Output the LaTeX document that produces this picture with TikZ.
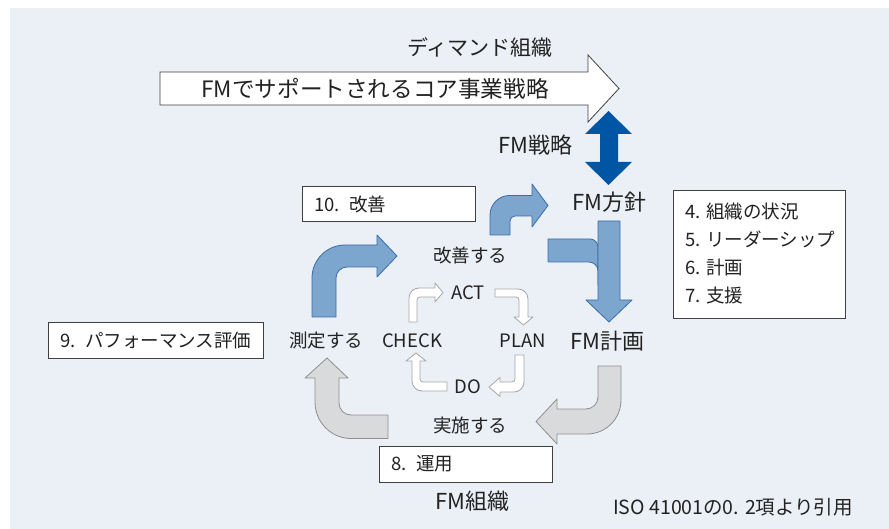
\documentclass[tikz,border=0pt]{standalone}
\usepackage{fontspec}
\setmainfont{Noto Sans CJK JP}
\usetikzlibrary{calc}
\definecolor{bg}{HTML}{EBF0F7}
\definecolor{bluefill}{HTML}{7DA6CF}
\definecolor{blueline}{HTML}{3A6DAA}
\definecolor{darkblue}{HTML}{0055A5}
\definecolor{grayfill}{HTML}{D9DADB}
\definecolor{grayline}{HTML}{8E8E8E}
\definecolor{pdcaline}{HTML}{A6A6A6}
\definecolor{txt}{HTML}{222222}
\definecolor{boxline}{HTML}{404040}
\newcommand\Q[3]{.. controls ($(#1)!0.552!(#2)$) and ($(#3)!0.552!(#2)$) .. (#3)}
\begin{document}
\begin{tikzpicture}[x=1pt,y=-1pt,
  bluearrow/.style={fill=bluefill,draw=blueline,line width=0.8pt,line join=round},
  grayarrow/.style={fill=grayfill,draw=grayline,line width=0.8pt,line join=round},
  pdca/.style={fill=white,draw=pdcaline,line width=0.8pt,line join=round},
  infobox/.style={draw=boxline,fill=white,line width=0.8pt,anchor=north west,align=left,text=txt,
    font=\fontsize{18.5}{27.8}\selectfont,inner xsep=12pt},
  boxtext/.style={anchor=west,align=left,text=txt,font=\fontsize{18.5}{27.8}\selectfont,inner sep=0},
  big/.style={font=\fontsize{22}{26}\selectfont,text=txt,inner sep=0},
  mid/.style={font=\fontsize{18.5}{22}\selectfont,text=txt,inner sep=0},
  small/.style={font=\fontsize{18.5}{20}\selectfont,text=txt,inner sep=0}]
\useasboundingbox (0,0) rectangle (889,529);
\fill[white] (0,0) rectangle (889,529);
\fill[bg] (10,8) rectangle (889,529);

% top strategy arrow
\draw[fill=white,draw=boxline,line width=0.8pt,line join=miter]
  (160,72) -- (588,72) -- (588,55) -- (619,88.5) -- (588,122) -- (588,105) -- (160,105) -- cycle;
\node[big,font=\fontsize{22.6}{26}\selectfont] (core) at (375,89) {FMでサポートされるコア事業戦略};
\node[big,font=\fontsize{21}{24}\selectfont] (demand) at (480,47) {ディマンド組織};

% double arrow
\fill[darkblue] (608.5,111) -- (632,134) -- (618,134) -- (618,162) -- (632,162) -- (608.5,185)
  -- (585,162) -- (600,162) -- (600,134) -- (585,134) -- cycle;
\node[big] (fmstrat) at (535,145) {FM戦略};

% labels
\node[big] (policy) at (609,202) {FM方針};
\node[big] (plan) at (607,341) {FM計画};
\node[big] (org) at (472,501) {FM組織};
\node[mid] (improve) at (470,255) {改善する};
\node[mid] (measure) at (326,341) {測定する};
\node[mid] (do) at (470,425) {実施する};

% boxes
\node[infobox,minimum width=173pt,minimum height=35pt,text width=149pt] (b10) at (302,186.5) {10. 改善};
\node[infobox,minimum width=215pt,minimum height=36pt,text width=191pt] (b9) at (48,322) {9. パフォーマンス評価};
\node[draw=boxline,fill=white,line width=0.8pt,anchor=north west,minimum width=172pt,minimum height=127.5pt,inner sep=0] (b47) at (673,190.5) {};
\node[boxtext] (t4) at (685,211.5) {4. 組織の状況};
\node[boxtext] (t5) at (685,239) {5. リーダーシップ};
\node[boxtext] (t6) at (685,267.5) {6. 計画};
\node[boxtext] (t7) at (685,295) {7. 支援};
\node[infobox,minimum width=173pt,minimum height=35.5pt,text width=149pt] (b8) at (379,446) {8. 運用};

\node[small,font=\fontsize{19.5}{20}\selectfont,anchor=west] (iso) at (613,507) {ISO 41001の0. 2項より引用};

% blue arrow A (measure -> improve)
\draw[bluearrow] (312,317) -- (312,278) \Q{312,278}{312,245}{345,245} -- (377,245) -- (377,235)
  -- (397,256) -- (377,277) -- (377,267) -- (347,267) \Q{347,267}{336,267}{336,278} -- (336,317) -- cycle;
% blue arrow B (improve -> policy)
\draw[bluearrow] (490,235) -- (490,215) \Q{490,215}{490,195.5}{509.5,195.5} -- (532,195.5) -- (532,184)
  -- (548,205.5) -- (532,227) -- (532,216) -- (515,216) \Q{515,216}{510,216}{510,221} -- (510,235) -- cycle;
% blue bent piece under policy->plan arrow
\draw[bluearrow] (548,239) -- (590,239) \Q{590,239}{598,239}{598,247} -- (598,285) -- (598,271)
  \Q{598,271}{598,262}{589,262} -- (548,262) -- cycle;
% blue straight arrow (policy -> plan)
\draw[bluearrow] (598,221) -- (620,221) -- (620,300) -- (632,300) -- (609,322) -- (586,300) -- (598,300) -- cycle;

% gray arrow D (plan -> do)
\draw[grayarrow] (598,366) -- (621,366) -- (621,400) \Q{621,400}{621,434}{587,434} -- (557,434) -- (557,444)
  -- (536,421.5) -- (557,399) -- (557,409) -- (586,409) \Q{586,409}{598,409}{598,397} -- cycle;
% gray arrow E (do -> measure)
\draw[grayarrow] (388,415) -- (351,415) \Q{351,415}{339,415}{339,403} -- (339,378) -- (348,378)
  -- (327,358) -- (305,378) -- (315,378) -- (315,402) \Q{315,402}{315,438.5}{351,438.5} -- (388,438.5) -- cycle;

% PDCA small arrows
\draw[pdca] (409,322) -- (409,298) \Q{409,298}{409,288}{419,288} -- (435,288) -- (435,283) -- (443,292.5)
  -- (435,302) -- (435,297) -- (420,297) \Q{420,297}{417,297}{417,300} -- (417,322) -- cycle;
\draw[pdca] (495,289) -- (518,289) \Q{518,289}{528,289}{528,299} -- (528,317) -- (533,317) -- (523.5,325)
  -- (514,317) -- (519,317) -- (519,300) \Q{519,300}{519,297}{516,297} -- (495,297) -- cycle;
\draw[pdca] (515,355) -- (524,355) -- (524,382) \Q{524,382}{524,392}{514,392} -- (500,392) -- (500,396.5)
  -- (489,387) -- (500,377.5) -- (500,382) -- (512,382) \Q{512,382}{515,382}{515,379} -- cycle;
\draw[pdca] (447,382) -- (423,382) \Q{423,382}{420,382}{420,379} -- (420,361) -- (426,361) -- (416,353)
  -- (406,361) -- (412,361) -- (412,381) \Q{412,381}{412,391}{422,391} -- (447,391) -- cycle;

\node[small] (act) at (468,293) {ACT};
\node[small] (check) at (412,341) {CHECK};
\node[small] (plnl) at (523,341) {PLAN};
\node[small] (dol) at (468,387) {DO};
\end{tikzpicture}
\end{document}
